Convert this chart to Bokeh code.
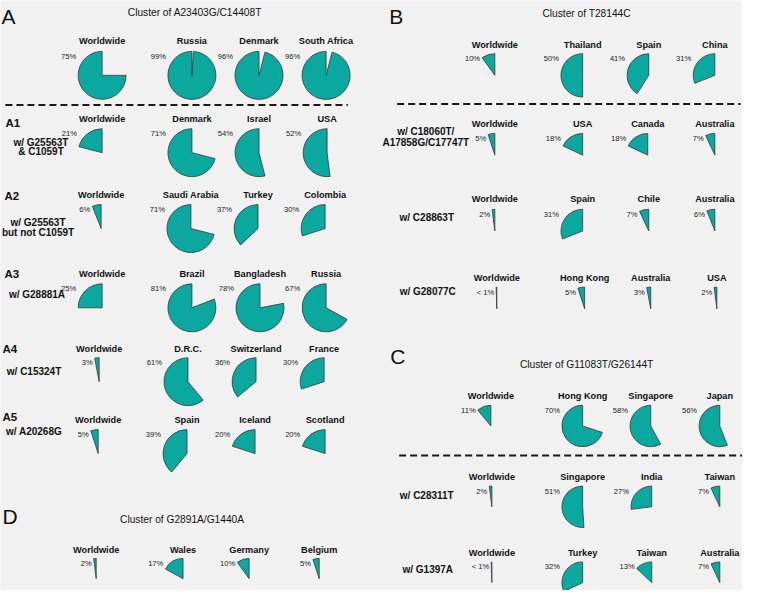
import math
from bokeh.plotting import figure
from bokeh.models import Range1d, ColumnDataSource
from bokeh.core.properties import value
from bokeh.embed import file_html
from bokeh.resources import INLINE

# ---------------- data ----------------
panel_letters = ["A", "B", "C", "D"]
panel_titles = ["Cluster of A23403G/C14408T", "Cluster of T28144C",
                "Cluster of G11083T/G26144T", "Cluster of G2891A/G1440A"]

a_countries = [["Worldwide", "Russia", "Denmark", "South Africa"],
               ["Worldwide", "Denmark", "Israel", "USA"],
               ["Worldwide", "Saudi Arabia", "Turkey", "Colombia"],
               ["Worldwide", "Brazil", "Bangladesh", "Russia"],
               ["Worldwide", "D.R.C.", "Switzerland", "France"],
               ["Worldwide", "Spain", "Iceland", "Scotland"]]
a_pcts = [[75, 99, 96, 96], [21, 71, 54, 52], [6, 71, 37, 30],
          [25, 81, 78, 67], [3, 61, 36, 30], [5, 39, 20, 20]]
a_row_ids = ["", "A1", "A2", "A3", "A4", "A5"]
a_row_labels = [[], ["w/ G25563T", "& C1059T"], ["w/ G25563T", "but not C1059T"],
                ["w/ G28881A"], ["w/ C15324T"], ["w/ A20268G"]]

b_countries = [["Worldwide", "Thailand", "Spain", "China"],
               ["Worldwide", "USA", "Canada", "Australia"],
               ["Worldwide", "Spain", "Chile", "Australia"],
               ["Worldwide", "Hong Kong", "Australia", "USA"]]
b_pcts = [[10, 50, 41, 31], [5, 18, 18, 7], [2, 31, 7, 6], [0.5, 5, 3, 2]]
b_row_labels = [[], ["w/ C18060T/", "A17858G/C17747T"], ["w/ C28863T"], ["w/ G28077C"]]

c_countries = [["Worldwide", "Hong Kong", "Singapore", "Japan"],
               ["Worldwide", "Singapore", "India", "Taiwan"],
               ["Worldwide", "Turkey", "Taiwan", "Australia"]]
c_pcts = [[11, 70, 58, 56], [2, 51, 27, 7], [0.5, 32, 13, 7]]
c_row_labels = [[], ["w/ C28311T"], ["w/ G1397A"]]

d_countries = [["Worldwide", "Wales", "Germany", "Belgium"]]
d_pcts = [[2, 17, 10, 5]]
d_row_labels = [[]]

# ---------------- layout (page pixel coordinates) ----------------
panels = [
    dict(countries=a_countries, pcts=a_pcts, labels=a_row_labels, ids=a_row_ids,
         r=24.3,
         name_y=[45, 124, 201, 282, 358, 430],
         cy=[80, 158.5, 235.5, 316, 391, 464],
         xs=[[106, 197, 265, 333], [106, 197, 265, 334], [105, 196, 264, 332],
             [106, 197, 266, 333], [103, 193, 262, 331], [102, 192, 261, 332]],
         id_x=[0, 8, 7, 7, 5, 5], id_y=[0, 128, 202, 282, 358, 427],
         lab_x=[0, 44, 41, 40, 37, 37],
         lab_y=[[], [147.7, 157.5], [229, 240], [302], [381], [442]],
         letter=(4, 20), title=(200, 16), dash=(8, 355, 110)),
    dict(countries=b_countries, pcts=b_pcts, labels=b_row_labels, ids=None,
         r=22,
         name_y=[49, 129, 206, 286],
         cy=[80, 161, 238, 317],
         xs=[[504, 593, 660, 727], [504, 593, 659, 727], [504, 593, 660, 727],
             [506, 595, 662, 729]],
         lab_x=[0, 434, 435, 436],
         lab_y=[[], [137.5, 148.5], [224], [299]],
         letter=(397, 20), title=(597, 17), dash=(405, 753, 109)),
    dict(countries=c_countries, pcts=c_pcts, labels=c_row_labels, ids=None,
         r=21,
         name_y=[406, 488, 565],
         cy=[436, 518, 595],
         xs=[[500, 593, 662, 732], [501, 593, 663, 732], [501, 593, 663, 732]],
         lab_x=[0, 435, 436],
         lab_y=[[], [507], [582]],
         letter=(398, 365), title=(597, 374), dash=(407, 755, 466)),
    dict(countries=d_countries, pcts=d_pcts, labels=d_row_labels, ids=None,
         r=20.5,
         name_y=[562],
         cy=[591],
         xs=[[100, 188, 255, 326]],
         lab_x=[0],
         lab_y=[[]],
         letter=(5, 528), title=(187, 531), dash=None),
]

FONT = "Liberation Sans"
TEAL = "#0aa89e"

p = figure(width=742, height=590, x_range=Range1d(3, 755), y_range=Range1d(-603, -4),
           output_backend="svg", toolbar_location=None, x_axis_type=None, y_axis_type=None,
           background_fill_color="#f1f1f1", border_fill_color="#f1f1f1",
           min_border=0, outline_line_color=None)
p.grid.visible = False

w = dict(x=[], y=[], r=[], s=[], e=[])
names = dict(x=[], y=[], t=[])
pl = dict(x=[], y=[], t=[])
rid = dict(x=[], y=[], t=[])
rlab = dict(x=[], y=[], t=[])
letters = dict(x=[], y=[], t=[])
titles = dict(x=[], y=[], t=[])

for k, pn in enumerate(panels):
    r = pn["r"]
    letters["x"].append(pn["letter"][0]); letters["y"].append(-pn["letter"][1]); letters["t"].append(panel_letters[k])
    titles["x"].append(pn["title"][0]); titles["y"].append(-pn["title"][1]); titles["t"].append(panel_titles[k])
    if pn["dash"]:
        x0, x1, yy = pn["dash"]
        p.line([x0, x1], [-yy, -yy], line_color="#1a1a1a", line_width=2, line_dash="7 4")
    for i, row in enumerate(pn["countries"]):
        cy = pn["cy"][i]
        for j, cname in enumerate(row):
            v = pn["pcts"][i][j]
            cx = pn["xs"][i][j]
            theta = 2 * math.pi * v / 100.0
            w["x"].append(cx); w["y"].append(-cy); w["r"].append(r)
            w["s"].append(math.pi / 2); w["e"].append(math.pi / 2 + theta)
            names["x"].append(cx); names["y"].append(-pn["name_y"][i]); names["t"].append(cname)
            lx = cx - r * math.sin(min(theta, math.pi / 2)) - 2
            pl["x"].append(lx); pl["y"].append(-(cy - r + 5))
            pl["t"].append("< 1%" if v < 1 else f"{v}%")
        if pn["ids"] and pn["ids"][i]:
            rid["x"].append(pn["id_x"][i]); rid["y"].append(-pn["id_y"][i]); rid["t"].append(pn["ids"][i])
        for line_txt, ly in zip(pn["labels"][i], pn["lab_y"][i]):
            rlab["x"].append(pn["lab_x"][i]); rlab["y"].append(-ly); rlab["t"].append(line_txt)

p.wedge(x="x", y="y", radius="r", start_angle="s", end_angle="e", direction="anticlock",
        source=ColumnDataSource(w), fill_color=TEAL, line_color="#383838", line_width=0.8)

p.text(x="x", y="y", text="t", source=ColumnDataSource(names), text_font=value(FONT),
       text_font_size="9.2px", text_font_style="bold", text_align="center",
       text_baseline="middle", text_color="#111111")
p.text(x="x", y="y", text="t", source=ColumnDataSource(pl), text_font=value(FONT),
       text_font_size="7.6px", text_align="right", text_baseline="middle", text_color="#222222")
p.text(x="x", y="y", text="t", source=ColumnDataSource(rid), text_font=value(FONT),
       text_font_size="11.5px", text_font_style="bold", text_align="left",
       text_baseline="middle", text_color="#111111")
p.text(x="x", y="y", text="t", source=ColumnDataSource(rlab), text_font=value(FONT),
       text_font_size="10px", text_font_style="bold", text_align="center",
       text_baseline="middle", text_color="#111111")
p.text(x="x", y="y", text="t", source=ColumnDataSource(letters), text_font=value(FONT),
       text_font_size="21px", text_align="left", text_baseline="alphabetic", text_color="#111111")
p.text(x="x", y="y", text="t", source=ColumnDataSource(titles), text_font=value(FONT),
       text_font_size="10.2px", text_align="center", text_baseline="middle", text_color="#111111")

open("out.html", "w").write(file_html(p, INLINE))
